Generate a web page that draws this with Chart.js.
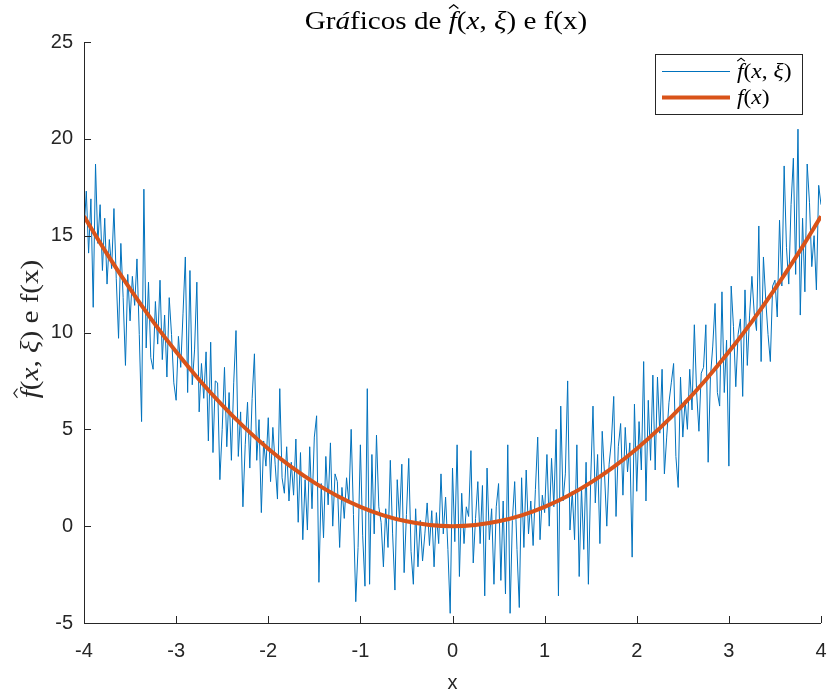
<!DOCTYPE html>
<html>
<head>
<meta charset="utf-8">
<script src="https://cdn.jsdelivr.net/npm/chart.js@4.4.0/dist/chart.umd.min.js"></script>
<style>
    html, body { margin: 0; padding: 0; background: #fff; }
</style>
</head>
<body>
<canvas id="noiseChart" width="829" height="695"></canvas>
<script>
// x positions of the noisy samples
const xNoisy = [
    -4, -3.975, -3.95, -3.925, -3.9, -3.875, -3.85, -3.825, -3.8, -3.775,
    -3.75, -3.725, -3.7, -3.675, -3.65, -3.625, -3.6, -3.575, -3.55, -3.525,
    -3.5, -3.475, -3.45, -3.425, -3.4, -3.375, -3.35, -3.325, -3.3, -3.275,
    -3.25, -3.225, -3.2, -3.175, -3.15, -3.125, -3.1, -3.075, -3.05, -3.025,
    -3, -2.975, -2.95, -2.925, -2.9, -2.875, -2.85, -2.825, -2.8, -2.775,
    -2.75, -2.725, -2.7, -2.675, -2.65, -2.625, -2.6, -2.575, -2.55, -2.525,
    -2.5, -2.475, -2.45, -2.425, -2.4, -2.375, -2.35, -2.325, -2.3, -2.275,
    -2.25, -2.225, -2.2, -2.175, -2.15, -2.125, -2.1, -2.075, -2.05, -2.025,
    -2, -1.975, -1.95, -1.925, -1.9, -1.875, -1.85, -1.825, -1.8, -1.775,
    -1.75, -1.725, -1.7, -1.675, -1.65, -1.625, -1.6, -1.575, -1.55, -1.525,
    -1.5, -1.475, -1.45, -1.425, -1.4, -1.375, -1.35, -1.325, -1.3, -1.275,
    -1.25, -1.225, -1.2, -1.175, -1.15, -1.125, -1.1, -1.075, -1.05, -1.025,
    -1, -0.975, -0.95, -0.925, -0.9, -0.875, -0.85, -0.825, -0.8, -0.775,
    -0.75, -0.725, -0.7, -0.675, -0.65, -0.625, -0.6, -0.575, -0.55, -0.525,
    -0.5, -0.475, -0.45, -0.425, -0.4, -0.375, -0.35, -0.325, -0.3, -0.275,
    -0.25, -0.225, -0.2, -0.175, -0.15, -0.125, -0.1, -0.075, -0.05, -0.025,
    0, 0.025, 0.05, 0.075, 0.1, 0.125, 0.15, 0.175, 0.2, 0.225,
    0.25, 0.275, 0.3, 0.325, 0.35, 0.375, 0.4, 0.425, 0.45, 0.475,
    0.5, 0.525, 0.55, 0.575, 0.6, 0.625, 0.65, 0.675, 0.7, 0.725,
    0.75, 0.775, 0.8, 0.825, 0.85, 0.875, 0.9, 0.925, 0.95, 0.975,
    1, 1.025, 1.05, 1.075, 1.1, 1.125, 1.15, 1.175, 1.2, 1.225,
    1.25, 1.275, 1.3, 1.325, 1.35, 1.375, 1.4, 1.425, 1.45, 1.475,
    1.5, 1.525, 1.55, 1.575, 1.6, 1.625, 1.65, 1.675, 1.7, 1.725,
    1.75, 1.775, 1.8, 1.825, 1.85, 1.875, 1.9, 1.925, 1.95, 1.975,
    2, 2.025, 2.05, 2.075, 2.1, 2.125, 2.15, 2.175, 2.2, 2.225,
    2.25, 2.275, 2.3, 2.325, 2.35, 2.375, 2.4, 2.425, 2.45, 2.475,
    2.5, 2.525, 2.55, 2.575, 2.6, 2.625, 2.65, 2.675, 2.7, 2.725,
    2.75, 2.775, 2.8, 2.825, 2.85, 2.875, 2.9, 2.925, 2.95, 2.975,
    3, 3.025, 3.05, 3.075, 3.1, 3.125, 3.15, 3.175, 3.2, 3.225,
    3.25, 3.275, 3.3, 3.325, 3.35, 3.375, 3.4, 3.425, 3.45, 3.475,
    3.5, 3.525, 3.55, 3.575, 3.6, 3.625, 3.65, 3.675, 3.7, 3.725,
    3.75, 3.775, 3.8, 3.825, 3.85, 3.875, 3.9, 3.925, 3.95, 3.975,
    4
];

// noisy values f^(x, xi)
const yNoisy = [
    15.2, 17.3, 14.1, 16.9, 11.3, 18.7, 14.6, 16.6, 13.2, 15.9,
    12.5, 14.8, 13.3, 16.4, 12.8, 9.7, 14.6, 11.8, 8.3, 13.0,
    10.6, 12.9, 11.4, 13.8, 9.9, 5.4, 17.4, 9.2, 12.6, 8.7,
    8.1, 11.6, 9.4, 12.7, 8.6, 10.9, 7.7, 11.8, 9.9, 7.4,
    6.5, 9.8, 8.2, 11.0, 13.9, 6.9, 13.2, 7.3, 9.1, 12.6,
    5.9, 8.4, 6.6, 9.0, 4.4, 9.5, 3.8, 7.5, 7.4, 2.4,
    5.0, 8.2, 4.1, 6.9, 3.4, 7.4, 10.1, 3.6, 5.9, 1.0,
    4.2, 6.4, 3.0, 6.6, 8.9, 3.4, 5.5, 0.7, 4.4, 3.1,
    5.6, 2.3, 5.1, 3.2, 1.4, 7.1, 2.5, 1.7, 4.1, 1.3,
    3.3, 1.6, 4.5, 0.2, 3.8, -0.7, 2.4, -0.2, 4.1, 0.9,
    4.6, 5.7, -2.9, 2.2, -0.6, 3.6, 1.1, 4.3, 0.0, 2.7,
    2.3, -1.1, 2.0, 0.4, 2.5, 1.2, 5.0, 0.6, -3.9, -1.1,
    4.2, -0.5, -3.1, 7.1, -3.0, 3.7, -0.4, 4.7, 1.0, 0.2,
    -2.1, 0.9, -1.1, 3.4, -0.4, -3.3, 2.4, 0.3, 3.2, -2.4,
    0.6, 3.5, -1.3, -3.0, 0.9, -2.1, 0.3, -1.8, -0.4, 1.2,
    -1.0, 0.8, -2.1, 0.7, -0.9, 2.7, -0.4, 1.5, -1.2, -4.5,
    3.0, -0.8, 4.2, -2.6, 1.7, -0.9, 1.0, 0.5, 3.9, -1.9,
    0.4, 2.3, -0.9, 2.1, -3.6, 3.0, -0.7, 0.9, -3.0, 1.0,
    2.2, -2.8, 1.3, -3.5, 4.2, -4.5, 0.3, 2.3, -1.2, -4.2,
    2.5, -1.1, 2.9, -0.4, 1.3, -1.0, 1.9, 4.6, -0.7, 1.6,
    0.7, 3.7, 0.0, 3.5, 1.0, 5.0, -3.6, 6.2, 1.3, 2.7,
    7.5, -0.2, 1.8, -0.7, 4.2, -2.6, 2.0, -1.2, 3.3, -3.0,
    2.4, 6.2, 1.2, 3.7, -0.9, 4.9, 2.7, 0.0, 3.2, 4.4,
    6.7, 0.5, 4.1, 5.3, 1.6, 5.1, 2.8, 4.3, -1.6, 6.3,
    1.8, 5.4, 2.9, 8.5, 1.3, 6.5, 3.4, 7.8, 2.9, 7.7,
    4.8, 8.1, 2.7, 4.6, 6.4, 7.4, 8.4, 3.6, 2.0, 7.7,
    4.6, 6.5, 5.0, 8.1, 6.0, 10.4, 6.9, 4.9, 7.9, 8.2,
    10.4, 3.3, 7.7, 9.3, 11.5, 6.9, 6.2, 12.1, 6.9, 9.6,
    3.1, 12.4, 10.3, 7.2, 9.9, 10.7, 6.7, 12.2, 8.3, 10.9,
    12.9, 11.0, 10.1, 15.5, 8.5, 13.9, 11.7, 9.9, 8.5, 12.4,
    12.7, 10.8, 15.8, 12.4, 18.6, 14.4, 12.5, 16.6, 19.0, 13.0,
    20.5, 10.9, 15.9, 12.1, 18.7, 16.7, 13.4, 15.0, 12.2, 17.6,
    16.6
];

// smooth curve f(x)
const xCurve = [
    -4, -3.75, -3.5, -3.25, -3, -2.75, -2.5, -2.25, -2, -1.75, -1.5, -1.25, -1, -0.75, -0.5, -0.25,
    0, 0.25, 0.5, 0.75, 1, 1.25, 1.5, 1.75, 2, 2.25, 2.5, 2.75, 3, 3.25, 3.5, 3.75, 4
];
const yCurve = [
    16, 14.06, 12.25, 10.56, 9, 7.56, 6.25, 5.06, 4, 3.06, 2.25, 1.56, 1, 0.56, 0.25, 0.06,
    0, 0.06, 0.25, 0.56, 1, 1.56, 2.25, 3.06, 4, 5.06, 6.25, 7.56, 9, 10.56, 12.25, 14.06, 16
];

// tick labels
const xTickValues = [-4, -3, -2, -1, 0, 1, 2, 3, 4];
const yTickValues = [-5, 0, 5, 10, 15, 20, 25];

const BLUE = '#0072BD';
const ORANGE = '#D95319';
const AXIS = '#262626';
const SERIF = '"Liberation Serif", "DejaVu Serif", serif';
const SANS = '"Liberation Sans", Arial, sans-serif';
const STRETCH = 1.12; // Times is narrower than the LaTeX font

// draw text made of roman / italic pieces, optional hat over a piece
function drawMath(ctx, parts, x, y, size, align) {
    const fonts = parts.map(p => (p.it ? 'italic ' : '') + size + 'px ' + SERIF);
    const widths = parts.map((p, i) => { ctx.font = fonts[i]; return ctx.measureText(p.t).width; });
    const total = widths.reduce((a, b) => a + b, 0);
    ctx.save();
    ctx.translate(x, y);
    ctx.scale(STRETCH, 1);
    let cx = align === 'center' ? -total / 2 : 0;
    ctx.textBaseline = 'middle';
    ctx.textAlign = 'left';
    parts.forEach((p, i) => {
        ctx.font = fonts[i];
        ctx.fillText(p.t, cx, 0);
        if (p.hat) {
            const hx = cx + widths[i] * 0.62;
            const hy = -size * 0.62;
            ctx.lineWidth = 1.1;
            ctx.strokeStyle = ctx.fillStyle;
            ctx.beginPath();
            ctx.moveTo(hx - size * 0.16, hy + size * 0.1);
            ctx.lineTo(hx, hy - size * 0.04);
            ctx.lineTo(hx + size * 0.16, hy + size * 0.1);
            ctx.stroke();
        }
        cx += widths[i];
    });
    ctx.restore();
}

const fHatParts = [
    { t: 'f', it: true, hat: true }, { t: '(' }, { t: 'x', it: true }, { t: ', ' }, { t: '\u03BE', it: true }, { t: ')' }
];

const decorPlugin = {
    id: 'decor',
    afterDraw(chart) {
        const ctx = chart.ctx;
        const area = chart.chartArea;
        const xs = chart.scales.x;
        const ys = chart.scales.y;

        ctx.save();
        // axes lines and inward ticks
        ctx.strokeStyle = AXIS;
        ctx.lineWidth = 1;
        ctx.beginPath();
        ctx.moveTo(area.left + 0.5, area.top);
        ctx.lineTo(area.left + 0.5, area.bottom + 0.5);
        ctx.lineTo(area.right, area.bottom + 0.5);
        xTickValues.forEach(v => {
            const px = Math.round(xs.getPixelForValue(v)) + 0.5;
            ctx.moveTo(px, area.bottom);
            ctx.lineTo(px, area.bottom - 7);
        });
        yTickValues.forEach(v => {
            const py = Math.round(ys.getPixelForValue(v)) + 0.5;
            ctx.moveTo(area.left, py);
            ctx.lineTo(area.left + 7, py);
        });
        ctx.stroke();

        // title
        ctx.fillStyle = '#000';
        drawMath(ctx, [
            { t: 'Gr' }, { t: '\u00E1', it: true }, { t: 'ficos de ' }
        ].concat(fHatParts).concat([{ t: ' e f(x)' }]), 446, 22, 26, 'center');

        // y axis label
        ctx.save();
        ctx.translate(31, 329);
        ctx.rotate(-Math.PI / 2);
        ctx.fillStyle = AXIS;
        drawMath(ctx, fHatParts.concat([{ t: ' e f(x)' }]), 0, 0, 26, 'center');
        ctx.restore();

        // x axis label
        ctx.fillStyle = AXIS;
        ctx.font = '20px ' + SANS;
        ctx.textAlign = 'center';
        ctx.textBaseline = 'middle';
        ctx.fillText('x', (area.left + area.right) / 2, 683);

        // legend
        const lx = 655, ly = 54, lw = 147, lh = 60;
        ctx.fillStyle = '#fff';
        ctx.fillRect(lx, ly, lw, lh);
        ctx.strokeStyle = AXIS;
        ctx.lineWidth = 1;
        ctx.strokeRect(lx + 0.5, ly + 0.5, lw, lh);
        const sets = chart.data.datasets;
        ctx.lineCap = 'butt';
        ctx.strokeStyle = sets[0].borderColor;
        ctx.lineWidth = sets[0].borderWidth;
        ctx.beginPath(); ctx.moveTo(662, 71.5); ctx.lineTo(730, 71.5); ctx.stroke();
        ctx.strokeStyle = sets[1].borderColor;
        ctx.lineWidth = sets[1].borderWidth;
        ctx.beginPath(); ctx.moveTo(662, 97.5); ctx.lineTo(730, 97.5); ctx.stroke();
        ctx.fillStyle = '#000';
        drawMath(ctx, fHatParts, 737, 72, 21, 'left');
        drawMath(ctx, [{ t: 'f', it: true }, { t: '(' }, { t: 'x', it: true }, { t: ')' }], 737, 98, 21, 'left');
        ctx.restore();
    }
};

function initializeNoiseChart() {
    const ctx = document.getElementById('noiseChart');
    if (!ctx) return;

    new Chart(ctx, {
        type: 'line',
        data: {
            datasets: [{
                label: 'f^(x, \u03BE)',
                data: xNoisy.map((x, i) => ({ x: x, y: yNoisy[i] })),
                borderColor: BLUE,
                borderWidth: 1,
                pointRadius: 0,
                tension: 0,
                order: 2
            }, {
                label: 'f(x)',
                data: xCurve.map((x, i) => ({ x: x, y: yCurve[i] })),
                borderColor: ORANGE,
                borderWidth: 4,
                pointRadius: 0,
                cubicInterpolationMode: 'monotone',
                order: 1
            }]
        },
        options: {
            responsive: false,
            animation: false,
            devicePixelRatio: 1,
            layout: {
                autoPadding: false,
                padding: { left: 0, top: 42, right: 8, bottom: 0 }
            },
            plugins: {
                legend: { display: false },
                title: { display: false },
                tooltip: { enabled: false }
            },
            scales: {
                x: {
                    type: 'linear',
                    min: xTickValues[0],
                    max: xTickValues[xTickValues.length - 1],
                    grid: { display: false },
                    border: { display: false },
                    afterFit: function(scale) {
                        scale.height = 72;
                        scale.paddingLeft = 0;
                        scale.paddingRight = 0;
                    },
                    afterBuildTicks: function(scale) {
                        scale.ticks = xTickValues.map(v => ({ value: v }));
                    },
                    ticks: {
                        color: AXIS,
                        padding: 8,
                        maxRotation: 0,
                        font: { family: SANS, size: 20 }
                    }
                },
                y: {
                    type: 'linear',
                    min: yTickValues[0],
                    max: yTickValues[yTickValues.length - 1],
                    grid: { display: false },
                    border: { display: false },
                    afterFit: function(scale) {
                        scale.width = 84;
                        scale.paddingTop = 0;
                        scale.paddingBottom = 0;
                    },
                    afterBuildTicks: function(scale) {
                        scale.ticks = yTickValues.map(v => ({ value: v }));
                    },
                    ticks: {
                        color: AXIS,
                        padding: 3,
                        font: { family: SANS, size: 20 }
                    }
                }
            }
        },
        plugins: [decorPlugin]
    });
}

document.addEventListener('DOMContentLoaded', initializeNoiseChart);
</script>
</body>
</html>
